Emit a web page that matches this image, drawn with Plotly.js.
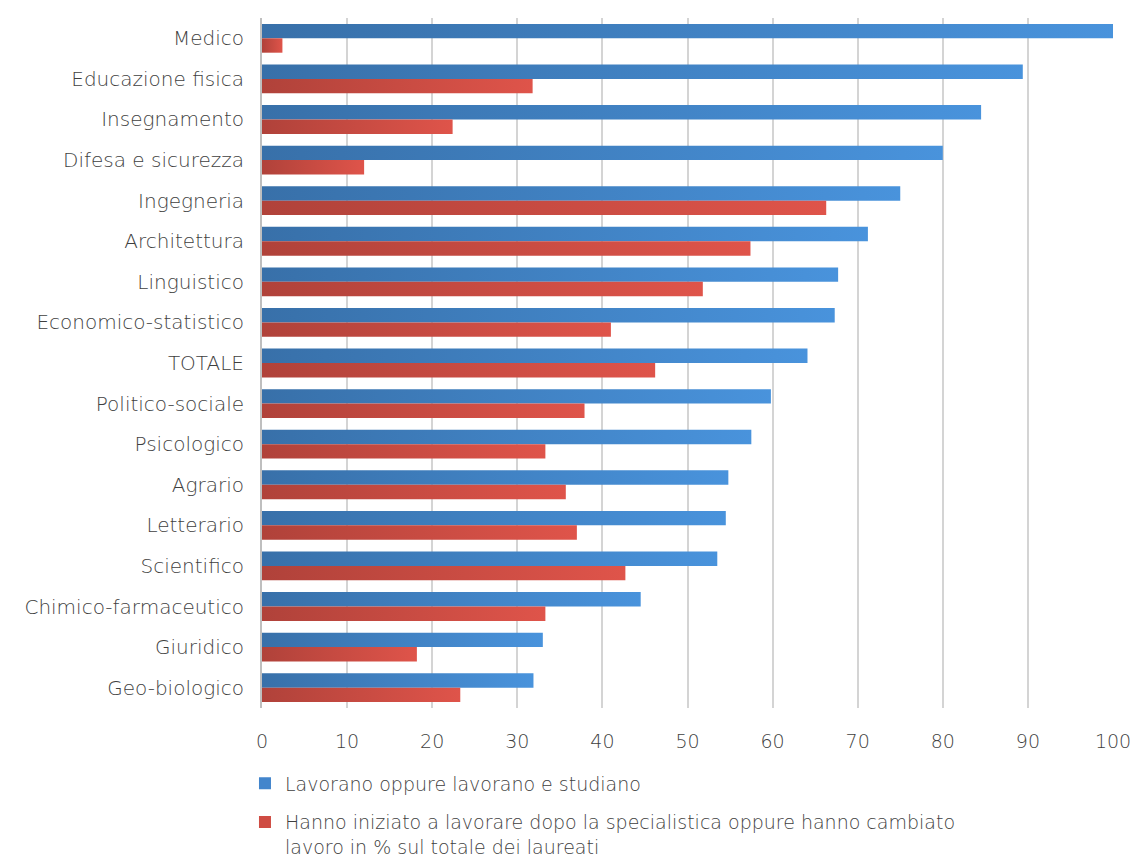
<!DOCTYPE html>
<html><head><meta charset="utf-8">
<script src="https://cdn.plot.ly/plotly-3.0.1.min.js"></script>
<style>body{margin:0;background:#fff}#chart{width:1131px;height:857px}</style>
</head><body><div id="chart"></div>
<script>
const categories = ["Medico","Educazione fisica","Insegnamento","Difesa e sicurezza","Ingegneria","Architettura","Linguistico","Economico-statistico","TOTALE","Politico-sociale","Psicologico","Agrario","Letterario","Scientifico","Chimico-farmaceutico","Giuridico","Geo-biologico"];
const lavorano = [100,89.4,84.5,80.0,75.0,71.2,67.7,67.3,64.1,59.8,57.5,54.8,54.5,53.5,44.5,33.0,31.9];
const iniziato = [2.4,31.8,22.4,12.0,66.3,57.4,51.8,41.0,46.2,37.9,33.3,35.7,37.0,42.7,33.3,18.2,23.3];
const seriesNames = ["Lavorano oppure lavorano e studiano","Hanno iniziato a lavorare dopo la specialistica oppure hanno cambiato<br>lavoro in % sul totale dei laureati"];
const xTicks = [0,10,20,30,40,50,60,70,80,90,100];

const FONT = "'DejaVu Sans', sans-serif";
const FW = 200;
const TXT = '#3f3f3f';
const traces = [
  {type:'bar', orientation:'h', y:categories, x:lavorano, name:seriesNames[0], legendgroup:'a',
   marker:{color:'#4285cc', line:{width:0}}, hoverinfo:'x+y'},
  {type:'bar', orientation:'h', y:categories, x:iniziato, name:seriesNames[1], legendgroup:'b',
   marker:{color:'#cf4c43', line:{width:0}}, hoverinfo:'x+y'}
];
const layout = {
  width:1131, height:857,
  margin:{l:262, r:18, t:18, b:149, autoexpand:false},
  paper_bgcolor:'#fff', plot_bgcolor:'#fff',
  barmode:'group', bargap:0.29, bargroupgap:0,
  font:{family:FONT, size:20, color:TXT, weight:FW},
  showlegend:true,
  legend:{orientation:'v', x:-0.02, xanchor:'left', yref:'container', y:0.108, yanchor:'top',
          valign:'top', font:{family:FONT, size:19, color:TXT, weight:FW}, tracegroupgap:11, traceorder:'grouped'},
  xaxis:{range:[0,100], tickvals:xTicks, ticktext:xTicks.map(String), showgrid:true,
         gridcolor:'#d4d4d4', gridwidth:2, zeroline:false, showline:false, ticks:'',
         ticklabelstandoff:20, ticklabeloverflow:'allow',
         tickfont:{family:FONT, size:19, color:TXT, weight:FW}},
  yaxis:{type:'category', autorange:'reversed', showgrid:false, zeroline:false,
         showline:true, linecolor:'#bfbfbf', linewidth:2, ticks:'', ticklabelstandoff:12,
         tickfont:{family:FONT, size:20, color:TXT, weight:FW}}
};
Plotly.newPlot('chart', traces, layout, {displayModeBar:false, staticPlot:true}).then(function(gd){
  const svg = gd.querySelector('svg.main-svg');
  const ns = 'http://www.w3.org/2000/svg';
  let defs = svg.querySelector('defs');
  function grad(id, c1, c2){
    const g = document.createElementNS(ns,'linearGradient');
    g.setAttribute('id',id); g.setAttribute('x1','0'); g.setAttribute('x2','1');
    g.setAttribute('y1','0'); g.setAttribute('y2','0');
    [[0,c1],[1,c2]].forEach(function(s){
      const st=document.createElementNS(ns,'stop');
      st.setAttribute('offset',s[0]); st.setAttribute('stop-color',s[1]); g.appendChild(st);
    });
    defs.appendChild(g);
  }
  grad('gBlue','#3870a9','#4993dc');
  grad('gRed','#b0423a','#df544a');
  const traceGroups = gd.querySelectorAll('.barlayer .trace');
  traceGroups.forEach(function(t,i){
    t.querySelectorAll('path').forEach(function(p){ p.style.fill = i===0 ? 'url(#gBlue)' : 'url(#gRed)'; });
  });
});
</script>
</body></html>
